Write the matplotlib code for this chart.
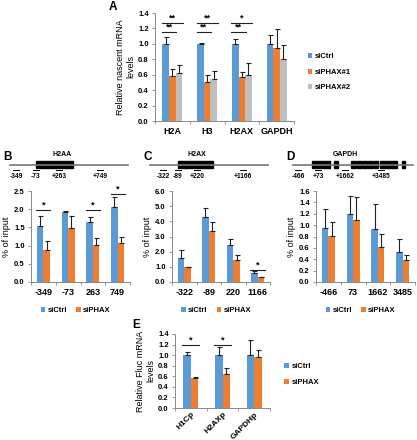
import matplotlib
matplotlib.use('Agg')
from matplotlib import pyplot as plt
import numpy as np

plt.rcParams['font.family'] = ['Liberation Sans', 'DejaVu Sans']
plt.rcParams['font.weight'] = 'bold'
plt.rcParams['font.size'] = 5.5

BLUE = '#5B9BD5'
ORANGE = '#ED7D31'
GRAY = '#BFBFBF'

# ---- panel A data
a_genes = ['H2A', 'H3', 'H2AX', 'GAPDH']
a_series = ['siCtrl', 'siPHAX#1', 'siPHAX#2']
a_ctrl = [1.0, 1.0, 1.0, 1.0]
a_ctrl_err = [0.09, 0.01, 0.06, 0.11]
a_phax1 = [0.58, 0.50, 0.57, 0.95]
a_phax1_err = [0.10, 0.09, 0.07, 0.24]
a_phax2 = [0.62, 0.55, 0.59, 0.81]
a_phax2_err = [0.11, 0.10, 0.16, 0.18]
# (group, from bar, to bar, height, label)
a_sig = [(0, 0, 1, 1.15, '**'), (0, 0, 2, 1.27, '**'),
         (1, 0, 1, 1.15, '**'), (1, 0, 2, 1.27, '**'),
         (2, 0, 1, 1.15, '**'), (2, 0, 2, 1.27, '*')]

# ---- panel B data (H2AA ChIP)
b_pos = ['-349', '-73', '263', '749']
b_ctrl = [1.53, 1.93, 1.65, 2.05]
b_ctrl_err = [0.28, 0.02, 0.13, 0.29]
b_phax = [0.87, 1.48, 1.03, 1.08]
b_phax_err = [0.25, 0.33, 0.19, 0.15]
b_sig = [(0, 0, 1, 1.97, '*'), (2, 0, 1, 1.97, '*'), (3, 0, 1, 2.42, '*')]

# ---- panel C data (H2AX ChIP)
c_pos = ['-322', '-89', '220', '1166']
c_ctrl = [1.57, 4.30, 2.45, 0.58]
c_ctrl_err = [0.55, 0.55, 0.40, 0.12]
c_phax = [0.97, 3.35, 1.45, 0.30]
c_phax_err = [0.03, 0.60, 0.35, 0.03]
c_sig = [(3, 0, 1, 0.78, '*')]

# ---- panel D data (GAPDH ChIP)
d_pos = ['-466', '73', '1662', '3485']
d_ctrl = [0.95, 1.19, 0.93, 0.53]
d_ctrl_err = [0.33, 0.32, 0.45, 0.23]
d_phax = [0.81, 1.09, 0.62, 0.38]
d_phax_err = [0.25, 0.41, 0.22, 0.09]
d_sig = []

# ---- panel E data
e_genes = ['H1Cp', 'H2AXp', 'GAPDHp']
e_ctrl = [1.0, 1.0, 1.0]
e_ctrl_err = [0.06, 0.16, 0.28]
e_phax = [0.57, 0.65, 0.96]
e_phax_err = [0.02, 0.10, 0.13]
e_sig = [(0, 0, 1, 1.2, '*'), (1, 0, 1, 1.2, '*')]

W, H = 417, 440
fig = plt.figure(figsize=(W / 100, H / 100), dpi=100)


def px_axes(left, top, right, bottom):
    return fig.add_axes([left / W, 1 - bottom / H, (right - left) / W, (bottom - top) / H])


def bar_panel(ax, cats, vals, errs, colors, width, ymax, ystep, sig, ylabel, rot=0, xfs=6.5):
    n = len(vals)
    x = np.arange(len(cats))
    offs = (np.arange(n) - (n - 1) / 2) * width
    handles = []
    for k in range(n):
        h = ax.bar(x + offs[k], vals[k], width, color=colors[k], zorder=2)
        handles.append(h)
        ax.errorbar(x + offs[k], vals[k], yerr=[np.zeros(len(cats)), errs[k]], fmt='none',
                    ecolor='#222222', elinewidth=0.8, capsize=1.8, capthick=0.8, zorder=3)
    for g, i, j, yv, txt in sig:
        x0 = g + offs[i] - width * 0.6
        x1 = g + offs[j] + width * 0.6
        ax.plot([x0, x1], [yv, yv], color='#222222', lw=0.8, clip_on=False)
        ax.text((x0 + x1) / 2, yv + ymax * 0.005, txt, ha='center', va='bottom',
                fontsize=6.5, clip_on=False)
    ax.set_xlim(-0.5, len(cats) - 0.5)
    ax.set_ylim(0, ymax)
    ticks = np.arange(0, ymax + ystep / 2, ystep)
    ax.set_yticks(ticks)
    ax.set_yticklabels([f'{t:.1f}' for t in ticks])
    ax.set_xticks(x)
    if rot:
        ax.set_xticklabels(cats, rotation=rot, ha='right', rotation_mode='anchor')
    else:
        ax.set_xticklabels(cats)
    ax.set_xticks(np.arange(len(cats) + 1) - 0.5, minor=True)
    ax.tick_params(axis='x', which='major', length=0, pad=4, labelsize=xfs)
    ax.tick_params(axis='x', which='minor', length=2.5, width=0.6, color='#888888')
    ax.tick_params(axis='y', length=2.5, width=0.6, color='#888888', pad=2)
    for s in ['top', 'right']:
        ax.spines[s].set_visible(False)
    for s in ['left', 'bottom']:
        ax.spines[s].set_color('#888888')
        ax.spines[s].set_linewidth(0.7)
    ax.set_ylabel(ylabel, fontsize=6.5, labelpad=2)
    return handles


# panel A
axA = px_axes(155, 13, 294, 121)
hA = bar_panel(axA, a_genes, [a_ctrl, a_phax1, a_phax2], [a_ctrl_err, a_phax1_err, a_phax2_err],
               [BLUE, ORANGE, GRAY], 0.19, 1.4, 0.2, a_sig, 'Relative nascent mRNA\nlevels')
axA.legend(hA, a_series, loc='center left', bbox_to_anchor=(1.05, 0.45), frameon=False,
           handlelength=0.6, handleheight=0.6, handletextpad=0.3, labelspacing=1.1, fontsize=5.5)

# panels B, C, D
axB = px_axes(31, 191, 130, 282)
hB = bar_panel(axB, b_pos, [b_ctrl, b_phax], [b_ctrl_err, b_phax_err], [BLUE, ORANGE],
               0.26, 2.5, 0.5, b_sig, '% of input')
axC = px_axes(172, 191, 270, 282)
hC = bar_panel(axC, c_pos, [c_ctrl, c_phax], [c_ctrl_err, c_phax_err], [BLUE, ORANGE],
               0.27, 6.0, 1.0, c_sig, '% of input')
axD = px_axes(316, 191, 415, 282)
hD = bar_panel(axD, d_pos, [d_ctrl, d_phax], [d_ctrl_err, d_phax_err], [BLUE, ORANGE],
               0.26, 1.6, 0.2, d_sig, '% of input')
for ax, h in [(axB, hB), (axC, hC), (axD, hD)]:
    ax.legend(h, ['siCtrl', 'siPHAX'], loc='upper center', bbox_to_anchor=(0.45, -0.2), ncol=2,
              frameon=False, handlelength=0.6, handleheight=0.6, handletextpad=0.3,
              columnspacing=1.2, fontsize=5.5)

# panel E
axE = px_axes(175, 334, 270, 408)
hE = bar_panel(axE, e_genes, [e_ctrl, e_phax], [e_ctrl_err, e_phax_err], [BLUE, ORANGE],
               0.24, 1.4, 0.2, e_sig, 'Relative Fluc mRNA\nlevels', rot=45, xfs=6)
axE.tick_params(axis='x', which='major', pad=2)
axE.legend(hE, ['siCtrl', 'siPHAX'], loc='center left', bbox_to_anchor=(1.08, 0.45), frameon=False,
           handlelength=0.6, handleheight=0.6, handletextpad=0.3, labelspacing=1.1, fontsize=5.5)

# overlay for gene diagrams and panel letters (pixel coordinates)
ov = fig.add_axes([0, 0, 1, 1])
ov.set_xlim(0, W)
ov.set_ylim(H, 0)
ov.axis('off')

genes = [
    ('H2AA', 62, (10, 128), [(36, 73)], ['-349', '-73', '+263', '+749'], [16, 36, 59, 100]),
    ('H2AX', 197, (150, 268), [(178, 213)], ['-322', '-89', '+220', '+1166'], [163, 178, 197, 243]),
    ('GAPDH', 345, (293, 413),
     [(312, 330), (334, 338), (351, 356), (357, 362), (363, 367), (368, 373), (374, 378), (380, 397), (402, 405)],
     ['-466', '+73', '+1662', '+3485'], [298, 318, 345, 381]),
]
for name, tx, line, boxes, labs, lx in genes:
    ov.text(tx, 155, name, ha='center', va='center', fontsize=5)
    ov.plot(line, [165, 165], color='#777777', lw=1.2)
    for b0, b1 in boxes:
        ov.add_patch(plt.Rectangle((b0, 161.5), b1 - b0, 7, color='black'))
    for t, x0 in zip(labs, lx):
        ov.plot([x0 - 3, x0 + 3], [170.5, 170.5], color='black', lw=0.7)
        ov.text(x0, 177, t, ha='center', va='center', fontsize=4.8)

for letter, x0, y0 in [('A', 113, 7), ('B', 8, 157), ('C', 148, 157), ('D', 290, 157), ('E', 136, 325)]:
    ov.text(x0, y0, letter, ha='center', va='center', fontsize=8.5)

fig.savefig('out.png', dpi=100)
